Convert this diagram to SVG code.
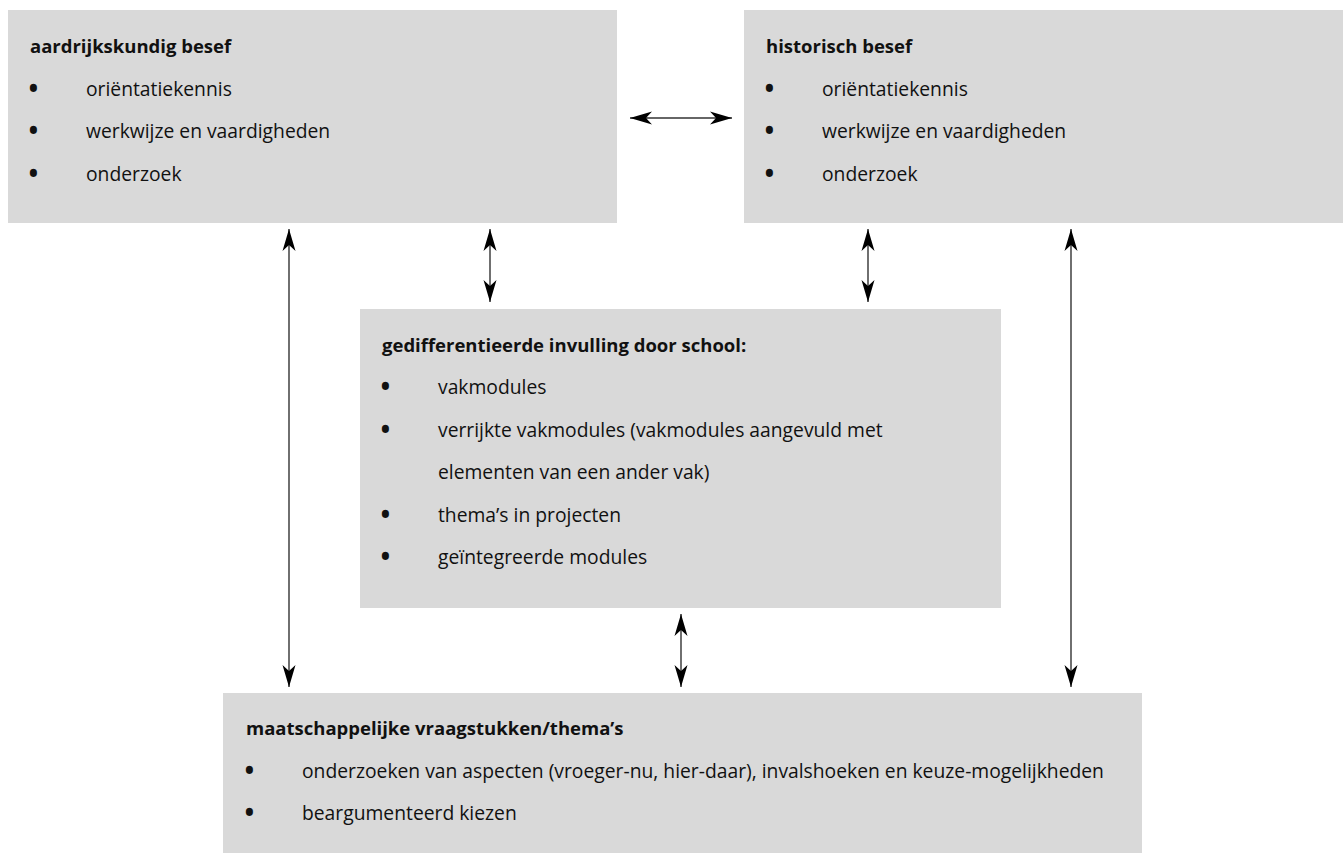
<svg xmlns="http://www.w3.org/2000/svg" width="1343" height="854" viewBox="0 0 1343 854">
<style>
.box{fill:#d9d9d9}
.t{font-family:"Open Sans","Noto Sans","DejaVu Sans",sans-serif;font-size:19.3px;fill:#111}
.b{font-weight:bold;font-size:18.5px}
.u{font-family:"Open Sans","Noto Sans","DejaVu Sans",sans-serif;font-size:34px;fill:#111}
.c{stroke:#333;stroke-width:1.4;fill:none;marker-start:url(#ah);marker-end:url(#ah)}
</style>
<defs>
<marker id="ah" markerUnits="userSpaceOnUse" markerWidth="23" markerHeight="14" refX="22" refY="6.5" orient="auto-start-reverse" overflow="visible">
<path d="M0,0 L22,6.5 L0,13 L6,6.5 Z" fill="#000"/>
</marker>
</defs>
<rect width="1343" height="854" fill="#fff"/>
<g id="aardrijkskundig">
<rect class="box" x="8" y="10" width="609" height="213"/>
<text class="t b" x="30" y="53">aardrijkskundig besef</text>
<text class="u" x="27" y="101">•</text><text class="t" x="86" y="96">oriëntatiekennis</text>
<text class="u" x="27" y="143">•</text><text class="t" x="86" y="138">werkwijze en vaardigheden</text>
<text class="u" x="27" y="186">•</text><text class="t" x="86" y="181">onderzoek</text>
</g>
<g id="historisch">
<rect class="box" x="744" y="10" width="599" height="213"/>
<text class="t b" x="766" y="53">historisch besef</text>
<text class="u" x="763" y="101">•</text><text class="t" x="822" y="96">oriëntatiekennis</text>
<text class="u" x="763" y="143">•</text><text class="t" x="822" y="138">werkwijze en vaardigheden</text>
<text class="u" x="763" y="186">•</text><text class="t" x="822" y="181">onderzoek</text>
</g>
<g id="invulling">
<rect class="box" x="360" y="309" width="641" height="299"/>
<text class="t b" x="382" y="352">gedifferentieerde invulling door school:</text>
<text class="u" x="379" y="399">•</text><text class="t" x="438" y="394">vakmodules</text>
<text class="u" x="379" y="442">•</text><text class="t" x="438" y="437">verrijkte vakmodules (vakmodules aangevuld met</text>
<text class="t" x="438" y="479">elementen van een ander vak)</text>
<text class="u" x="379" y="527">•</text><text class="t" x="438" y="522">thema’s in projecten</text>
<text class="u" x="379" y="569">•</text><text class="t" x="438" y="564">geïntegreerde modules</text>
</g>
<g id="vraagstukken">
<rect class="box" x="223" y="693" width="919" height="160"/>
<text class="t b" x="246" y="735">maatschappelijke vraagstukken/thema’s</text>
<text class="u" x="243" y="783">•</text><text class="t" x="302" y="778">onderzoeken van aspecten (vroeger-nu, hier-daar), invalshoeken en keuze-mogelijkheden</text>
<text class="u" x="243" y="825">•</text><text class="t" x="302" y="820">beargumenteerd kiezen</text>
</g>
<g id="connectors">
<line class="c" x1="630" y1="118" x2="732" y2="118"/>
<line class="c" x1="289" y1="229" x2="289" y2="687"/>
<line class="c" x1="490" y1="229" x2="490" y2="302"/>
<line class="c" x1="868" y1="229" x2="868" y2="302"/>
<line class="c" x1="1071" y1="229" x2="1071" y2="687"/>
<line class="c" x1="681" y1="614" x2="681" y2="687"/>
</g>
</svg>
